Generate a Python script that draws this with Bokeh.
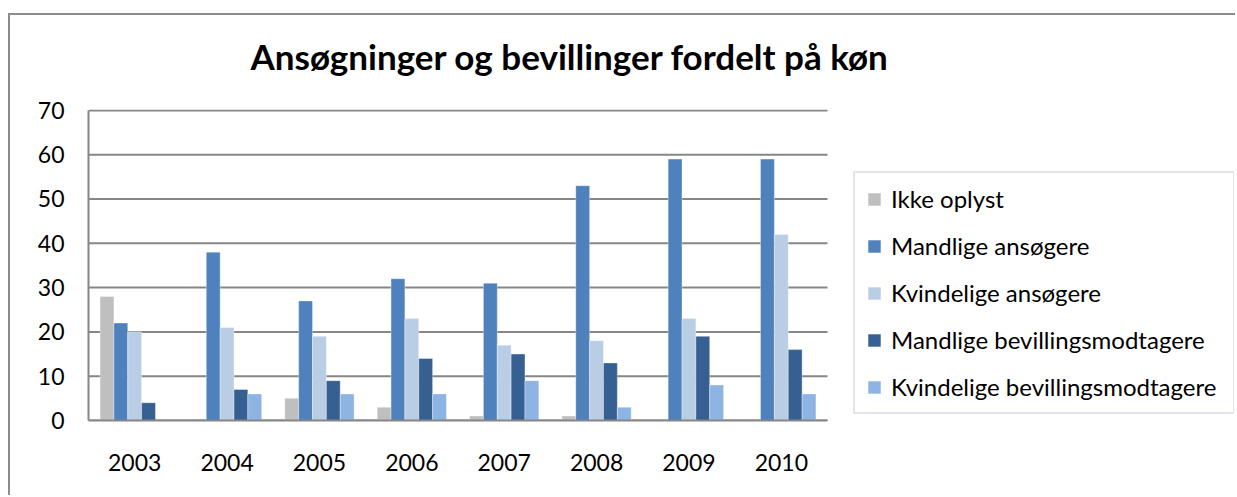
from bokeh.plotting import figure
from bokeh.models import (Range1d, FixedTicker, Legend, LegendItem,
                          ColumnDataSource, Title)
from bokeh.transform import dodge
from bokeh.embed import file_html
from bokeh.resources import INLINE

# ---- data ----
years = ["2003", "2004", "2005", "2006", "2007", "2008", "2009", "2010"]
ikke_oplyst = [28, 0, 5, 3, 1, 1, 0, 0]
mandlige_ansogere = [22, 38, 27, 32, 31, 53, 59, 59]
kvindelige_ansogere = [20, 21, 19, 23, 17, 18, 23, 42]
mandlige_bevillingsmodtagere = [4, 7, 9, 14, 15, 13, 19, 16]
kvindelige_bevillingsmodtagere = [0, 6, 6, 6, 9, 3, 8, 6]
series_names = ["Ikke oplyst", "Mandlige ansøgere", "Kvindelige ansøgere",
                "Mandlige bevillingsmodtagere", "Kvindelige bevillingsmodtagere"]
y_ticks = [0, 10, 20, 30, 40, 50, 60, 70]
title_text = "Ansøgninger og bevillinger fordelt på køn"

# ---- styles ----
colors = ["#BFBFBF", "#4F81BD", "#B9CDE5", "#376092", "#8EB4E3"]
FONT = "Lato"
GRID = "#868686"

n = len(years)
xc = [i + 0.5 for i in range(n)]          # category centres
src = ColumnDataSource(dict(
    xc=xc, s0=ikke_oplyst, s1=mandlige_ansogere, s2=kvindelige_ansogere,
    s3=mandlige_bevillingsmodtagere, s4=kvindelige_bevillingsmodtagere))

# frame widened to the right so the legend (inside the frame) is not clipped;
# the category area spans x = 0 .. n
x_end = n * 1146.0 / 739.0
p = figure(width=1227, height=482, x_range=Range1d(0, x_end), y_range=Range1d(0, 70.2),
           output_backend="svg", toolbar_location=None, title=None,
           min_border_left=78, min_border_right=3, min_border_top=94, min_border_bottom=77)
p.styles = {"margin-left": "8px", "margin-top": "13px",
            "border-left": "2px solid #8C8C8C", "border-top": "2px solid #8C8C8C"}
p.outline_line_color = None
p.background_fill_color = "white"
p.border_fill_color = "white"

# horizontal grid lines limited to the category area
p.xgrid.visible = False
p.ygrid.visible = False
p.segment(x0=0, x1=n, y0=y_ticks, y1=y_ticks, line_color=GRID, line_width=2)

bw = 0.15
offsets = [-0.3, -0.15, 0.0, 0.15, 0.3]
renderers = []
for i, (off, col) in enumerate(zip(offsets, colors)):
    r = p.vbar(x=dodge("xc", off), top="s%d" % i, width=bw, source=src,
               fill_color=col, line_color="white", line_alpha=0.35, line_width=1)
    renderers.append(r)

# axes
p.yaxis.ticker = FixedTicker(ticks=y_ticks)
p.yaxis.bounds = (0, 70)
p.xaxis.ticker = FixedTicker(ticks=xc)
p.xaxis.major_label_overrides = {c: y for c, y in zip(xc, years)}
p.xaxis.bounds = (0, n)
for ax in (p.xaxis[0], p.yaxis[0]):
    ax.axis_line_color = GRID
    ax.axis_line_width = 2
    ax.major_tick_line_color = None
    ax.minor_tick_line_color = None
    ax.major_tick_out = 0
    ax.major_tick_in = 0
    ax.major_label_text_font = FONT
    ax.major_label_text_font_size = "23px"
    ax.major_label_text_color = "black"
p.yaxis.major_label_standoff = 24
p.xaxis.major_label_standoff = 33

# title: a spacer next to the frame, then the real title above it
p.add_layout(Title(text=" ", text_font_size="10px", standoff=20), "above")
p.add_layout(Title(text=title_text, align="left", offset=162, standoff=0,
                   vertical_align="bottom", text_font=FONT, text_font_style="bold",
                   text_font_size="35px", text_color="black"), "above")

legend = Legend(items=[LegendItem(label=s, renderers=[r]) for s, r in zip(series_names, renderers)],
                location=(765, 6), margin=0, padding=11, spacing=18,
                glyph_width=16, glyph_height=16, label_height=24, label_standoff=9,
                label_width=331,
                label_text_font=FONT, label_text_font_size="24px", label_text_color="black",
                label_text_baseline="middle",
                border_line_color="#CDC6DE", border_line_width=2,
                background_fill_color="white", background_fill_alpha=1)
p.add_layout(legend)

open("out.html", "w").write(file_html(p, INLINE))
